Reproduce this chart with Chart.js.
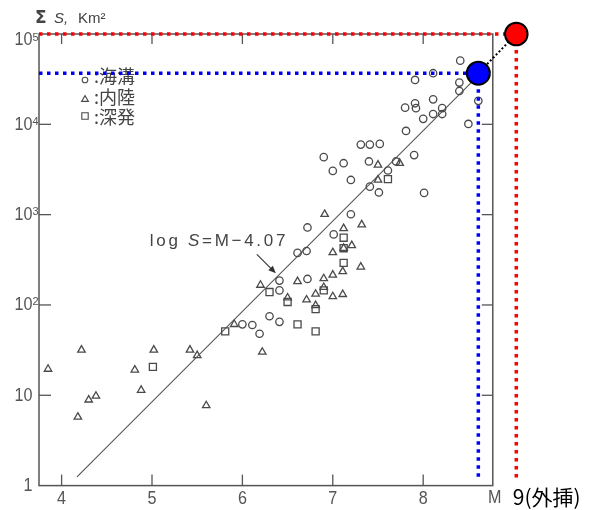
<!DOCTYPE html>
<html><head><meta charset="utf-8">
<script src="https://cdn.jsdelivr.net/npm/chart.js@4/dist/chart.umd.min.js"></script>
<style>html,body{margin:0;padding:0;background:#fff;}canvas{display:block}</style>
</head><body>
<canvas id="c" width="590" height="510"></canvas>
<script>
// ---- data (M = magnitude, S = cumulative aftershock area, km^2) ----
const trenchM = [6.00, 6.11, 6.19, 6.30, 6.41, 6.41, 6.41, 6.61, 6.71, 6.72, 6.72, 7.01, 7.20, 7.00, 6.90, 7.12, 7.20, 7.31, 7.41, 7.52, 7.40, 7.41, 7.51, 7.61, 7.70, 7.81, 7.90, 8.01, 8.00, 7.80, 7.91, 7.92, 7.91, 8.11, 8.11, 8.21, 8.21, 8.11, 8.41, 8.40, 8.40, 8.61, 8.50];
const trenchS = [61, 60, 48, 75, 65, 186, 145, 377, 396, 194, 721, 604, 1010, 3050, 4330, 3710, 2420, 5960, 5960, 6070, 3880, 2040, 1760, 3080, 3880, 8450, 4560, 1740, 11500, 15300, 17100, 15100, 31000, 18900, 13000, 15100, 13000, 36800, 50700, 29000, 23400, 18200, 10100];
const inlandM = [3.85, 4.22, 4.18, 4.30, 4.38, 4.81, 4.88, 5.02, 5.42, 5.50, 5.60, 6.22, 5.91, 6.20, 6.50, 6.61, 6.71, 6.81, 6.81, 6.90, 6.90, 7.00, 7.00, 7.11, 7.11, 7.00, 7.12, 7.21, 7.31, 7.12, 7.32, 6.91, 7.50, 7.50, 7.74];
const inlandS = [19.5, 31.8, 5.75, 8.9, 9.8, 19.1, 11.4, 31.8, 31.8, 27.6, 7.7, 30.1, 61, 166, 120, 182, 114, 132, 99, 196, 157, 215, 124, 235, 131, 381, 425, 456, 264, 703, 774, 1010, 3550, 2420, 3710];
const deepM = [5.01, 5.81, 6.30, 6.50, 6.61, 6.81, 6.81, 6.90, 7.12, 7.12, 7.12, 7.61];
const deepS = [20.6, 51, 139, 108, 61, 90, 51, 145, 292, 425, 555, 2470];
const fitM = [4.17, 8.60];
const fitS = [1.25, 33900];
const observedM = [8.61];
const observedS = [36800];
const extrapM = [9.03];
const extrapS = [100000];
const dropFloorS = 1.17;
const frameM = [3.75, 8.77];      // axis box
const scaleM = [3.75, 9.30];      // drawable range (room for the extrapolated point)
const yRange = [1, 100000];
const xTicks = [4, 5, 6, 7, 8];
const xTickLabels = ['4', '5', '6', '7', '8'];
const yTicks = [1, 10, 100, 1000, 10000, 100000];
const yTickBase = ['1', '10', '10', '10', '10', '10'];
const yTickExp = ['', '', '2', '3', '4', '5'];
const legendLabels = ['海溝', '内陸', '深発'];
const legendShapes = ['circle', 'triangle', 'rect'];
const annotM = 6.37, annotS = 224;
const annotText = ['log ', 'S', '=M−4.07'];
const xAxisName = 'M';
const extrapLabel = '9(外挿)';

const pts = (xs, ys) => xs.map((x, i) => ({x: x, y: ys[i]}));
const GRAY = '#4a4a4a';

function marker(ctx, shape, x, y) {
  ctx.beginPath();
  if (shape === 'circle') ctx.arc(x, y, 2.8, 0, Math.PI * 2);
  else if (shape === 'triangle') { ctx.moveTo(x, y - 3.4); ctx.lineTo(x + 3.4, y + 2.4); ctx.lineTo(x - 3.4, y + 2.4); ctx.closePath(); }
  else ctx.rect(x - 3.2, y - 3.2, 6.4, 6.4);
  ctx.stroke();
}

const decor = {
  id: 'decor',
  beforeDatasetsDraw(chart) {
    const ctx = chart.ctx, xs = chart.scales.x, ys = chart.scales.y;
    const {top, bottom} = chart.chartArea;
    const left = xs.getPixelForValue(frameM[0]);
    const right = xs.getPixelForValue(frameM[1]);
    ctx.save();
    // frame
    ctx.strokeStyle = '#555'; ctx.lineWidth = 1.5;
    ctx.strokeRect(left, top, right - left, bottom - top);
    ctx.lineWidth = 1.3;
    xTicks.forEach(v => {
      const p = xs.getPixelForValue(v);
      ctx.beginPath(); ctx.moveTo(p, bottom); ctx.lineTo(p, bottom - 11); ctx.stroke();
      ctx.beginPath(); ctx.moveTo(p, top); ctx.lineTo(p, top + 10); ctx.stroke();
    });
    yTicks.forEach(v => {
      if (v === yRange[0] || v === yRange[1]) return;
      const p = ys.getPixelForValue(v);
      ctx.beginPath(); ctx.moveTo(left, p); ctx.lineTo(left + 12, p); ctx.stroke();
      ctx.beginPath(); ctx.moveTo(right, p); ctx.lineTo(right - 11, p); ctx.stroke();
    });
    // y tick labels
    ctx.fillStyle = '#555';
    yTicks.forEach((v, i) => {
      let p = ys.getPixelForValue(v);
      if (p - top < 4) p += 6;
      ctx.save();
      ctx.translate(left - 6.5, p);
      ctx.scale(0.85, 1);
      ctx.font = '19px "Liberation Sans"';
      ctx.textAlign = 'right'; ctx.textBaseline = 'middle';
      ctx.fillText(yTickBase[i], 0, 0);
      ctx.restore();
      if (yTickExp[i]) {
        ctx.font = '11px "Liberation Sans"';
        ctx.textAlign = 'left'; ctx.textBaseline = 'alphabetic';
        ctx.fillText(yTickExp[i], left - 6.5, p + 0.5);
      }
    });
    // x tick labels
    xTicks.forEach((v, i) => {
      const p = xs.getPixelForValue(v);
      ctx.save();
      ctx.translate(p, bottom + 13);
      ctx.scale(0.85, 1);
      ctx.font = '19px "Liberation Sans"';
      ctx.textAlign = 'center'; ctx.textBaseline = 'middle';
      ctx.fillText(xTickLabels[i], 0, 0);
      ctx.restore();
    });
    ctx.save();
    ctx.translate(right + 2, bottom + 12);
    ctx.scale(0.85, 1);
    ctx.font = '19px "Liberation Sans"';
    ctx.textAlign = 'center'; ctx.textBaseline = 'middle';
    ctx.fillText(xAxisName, 0, 0);
    ctx.restore();
    // extrapolation label
    ctx.fillStyle = '#000';
    ctx.font = '21px "Noto Sans CJK JP"';
    ctx.textAlign = 'left'; ctx.textBaseline = 'middle';
    ctx.fillText(extrapLabel, xs.getPixelForValue(extrapM[0]) - 3.5, bottom + 11);
    // y title
    ctx.fillStyle = '#444';
    ctx.textBaseline = 'alphabetic';
    ctx.font = 'bold 17px "DejaVu Sans"';
    ctx.fillText('Σ', left - 4, top - 11);
    ctx.font = 'italic 15px "Liberation Sans"';
    ctx.fillText('S,', left + 15, top - 11);
    ctx.font = '15px "Liberation Sans"';
    ctx.fillText('Km²', left + 39, top - 11);
    // legend
    ctx.strokeStyle = GRAY; ctx.lineWidth = 1.1;
    ctx.fillStyle = '#444';
    const rowY = [top + 42, top + 63, top + 83];
    const mOff = [4, 2, -1];
    legendLabels.forEach((lab, i) => {
      marker(ctx, legendShapes[i], left + 46, rowY[i] + mOff[i]);
      ctx.font = '18px "Noto Sans CJK JP"';
      ctx.textBaseline = 'middle'; ctx.textAlign = 'left';
      ctx.fillText(':' + lab, left + 55, rowY[i]);
    });
    // annotation
    const tx = xs.getPixelForValue(annotM), ty = ys.getPixelForValue(annotS);
    ctx.strokeStyle = '#333'; ctx.fillStyle = '#333'; ctx.lineWidth = 1.2;
    ctx.beginPath(); ctx.moveTo(tx - 19, ty - 19); ctx.lineTo(tx - 3, ty - 3); ctx.stroke();
    ctx.beginPath(); ctx.moveTo(tx, ty); ctx.lineTo(tx - 7.5, ty - 3); ctx.lineTo(tx - 3, ty - 7.5); ctx.closePath(); ctx.fill();
    ctx.fillStyle = '#444';
    ctx.textBaseline = 'alphabetic'; ctx.textAlign = 'left';
    try { ctx.letterSpacing = '2.7px'; } catch (e) {}
    let ax = tx - 126;
    const ab = ty - 27;
    const fonts = ['17px "Liberation Sans"', 'italic 17px "Liberation Sans"', '17px "Liberation Sans"'];
    annotText.forEach((t, i) => {
      ctx.font = fonts[i];
      ctx.fillText(t, ax, ab);
      ax += ctx.measureText(t).width;
    });
    ctx.restore();
  }
};

const dotted = (data, color, order) => ({
  data: data, showLine: true, pointRadius: 0, borderColor: color, borderWidth: 3.5,
  borderDash: [3.5, 4.5], borderCapStyle: 'butt', clip: false, order: order
});
const scatterSet = (data, style, r) => ({
  data: data, pointStyle: style, pointRadius: r, pointBorderColor: GRAY,
  pointBackgroundColor: 'rgba(0,0,0,0)', pointBorderWidth: 1.3, showLine: false, clip: false, order: 5
});

const chart = new Chart(document.getElementById('c'), {
  type: 'scatter',
  data: {
    datasets: [
      {data: pts(extrapM, extrapS), pointRadius: 11.3, pointBackgroundColor: '#ff0000', pointBorderColor: '#000', pointBorderWidth: 2, clip: false, order: 0},
      {data: pts(observedM, observedS), pointRadius: 11.5, pointBackgroundColor: '#0000ff', pointBorderColor: '#000', pointBorderWidth: 2, clip: false, order: 1},
      {data: pts([observedM[0], extrapM[0]], [observedS[0], extrapS[0]]), showLine: true, pointRadius: 0, borderColor: '#000', borderWidth: 2, borderDash: [2, 2.2], clip: false, order: 2},
      dotted(pts([frameM[0], observedM[0]], [observedS[0], observedS[0]]), '#0000ff', 3),
      dotted(pts([observedM[0], observedM[0]], [observedS[0], dropFloorS]), '#0000ff', 3),
      dotted(pts([frameM[0], extrapM[0]], [extrapS[0], extrapS[0]]), '#ff0000', 3),
      dotted(pts([extrapM[0], extrapM[0]], [extrapS[0], dropFloorS]), '#ff0000', 3),
      scatterSet(pts(trenchM, trenchS), 'circle', 3.7),
      scatterSet(pts(inlandM, inlandS), 'triangle', 4.3),
      scatterSet(pts(deepM, deepS), 'rect', 5),
      {data: pts(fitM, fitS), showLine: true, pointRadius: 0, borderColor: '#555', borderWidth: 1.1, clip: false, order: 6}
    ]
  },
  options: {
    responsive: false, animation: false, devicePixelRatio: 1,
    layout: {padding: {left: 39, right: 49.3, top: 34, bottom: 24.4}},
    scales: {
      x: {type: 'linear', min: scaleM[0], max: scaleM[1], display: false},
      y: {type: 'logarithmic', min: yRange[0], max: yRange[1], display: false}
    },
    plugins: {legend: {display: false}, tooltip: {enabled: false}}
  },
  plugins: [decor]
});
</script>
</body></html>
